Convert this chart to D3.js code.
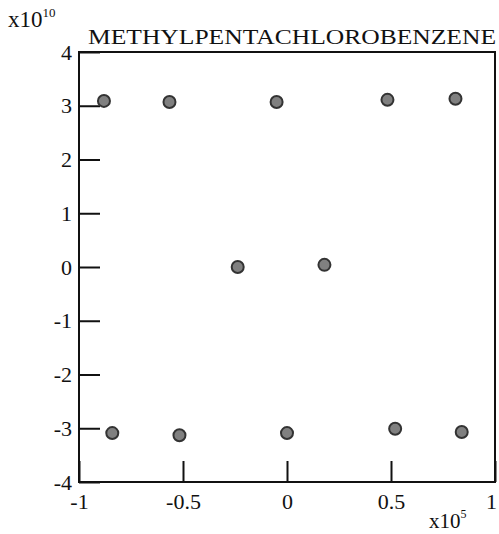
<!DOCTYPE html>
<html>
<head>
<meta charset="utf-8">
<script src="https://cdn.jsdelivr.net/npm/d3@7"></script>
<style>
  body { margin: 0; background: #fff; }
  text { font-family: "Liberation Serif", "DejaVu Serif", serif; fill: #111; }
</style>
</head>
<body>
<svg id="chart" width="499" height="534"></svg>
<script>
// scores, x in units of 1e5, y in units of 1e10
const xValues = [-0.88, -0.565, -0.05, 0.483, 0.81, -0.237, 0.18, -0.84, -0.517, 0.0, 0.52, 0.84]
const yValues = [3.09, 3.07, 3.07, 3.11, 3.13, 0.0, 0.04, -3.09, -3.13, -3.09, -3.01, -3.07]
const xTicks = [-1, -0.5, 0, 0.5, 1]
const yTicks = [-4, -3, -2, -1, 0, 1, 2, 3, 4]
const title = "METHYLPENTACHLOROBENZENE"

const svg = d3.select("#chart")
const margin = { left: 79, right: 4, top: 52, bottom: 52 }
const width = 499, height = 534
const serif = "'Liberation Serif', 'DejaVu Serif', serif"

const x = d3.scaleLinear().domain([-1, 1]).range([margin.left, width - margin.right])
const y = d3.scaleLinear().domain([-4, 4]).range([height - margin.bottom, margin.top])

const fmt = d => String(d)

// frame
svg.append("rect")
    .attr("x", x(-1)).attr("y", y(4))
    .attr("width", x(1) - x(-1)).attr("height", y(-4) - y(4))
    .attr("fill", "none").attr("stroke", "#111").attr("stroke-width", 2)

const yAxis = svg.append("g")
    .attr("transform", `translate(${x(-1)},0)`)
    .call(d3.axisLeft(y).tickValues(yTicks).tickFormat(fmt).tickSizeInner(-21).tickSizeOuter(0).tickPadding(7))
yAxis.select(".domain").remove()
yAxis.selectAll("line").attr("stroke", "#111").attr("stroke-width", 2)
yAxis.selectAll("text").attr("font-size", 22).attr("fill", "#111")
    .attr("font-family", serif)

const xAxis = svg.append("g")
    .attr("transform", `translate(0,${y(-4)})`)
    .call(d3.axisBottom(x).tickValues(xTicks).tickFormat(fmt).tickSizeInner(-21).tickSizeOuter(0).tickPadding(11))
xAxis.select(".domain").remove()
xAxis.selectAll("line").attr("stroke", "#111").attr("stroke-width", 2)
xAxis.selectAll("text").attr("font-size", 22).attr("fill", "#111")
    .attr("font-family", serif)
    .attr("dx", d => d === 1 ? -4 : 0)

// exponent labels
const yExp = svg.append("text").attr("x", 8).attr("y", 27).attr("font-size", 23)
yExp.append("tspan").text("x10")
yExp.append("tspan").attr("font-size", 13).attr("dy", -10).text("10")

const xExp = svg.append("text").attr("x", 429).attr("y", 528).attr("font-size", 21)
xExp.append("tspan").text("x10")
xExp.append("tspan").attr("font-size", 12).attr("dy", -10).text("5")

svg.append("text")
    .attr("x", 88).attr("y", 44)
    .attr("font-size", 22)
    .attr("textLength", 408)
    .attr("lengthAdjust", "spacingAndGlyphs")
    .text(title)

svg.append("g").selectAll("circle")
    .data(xValues.map((v, i) => [v, yValues[i]]))
    .enter()
    .append("circle")
    .attr("cx", d => x(d[0]))
    .attr("cy", d => y(d[1]))
    .attr("r", 6)
    .attr("fill", "#808080")
    .attr("stroke", "#333")
    .attr("stroke-width", 2)
</script>
</body>
</html>
